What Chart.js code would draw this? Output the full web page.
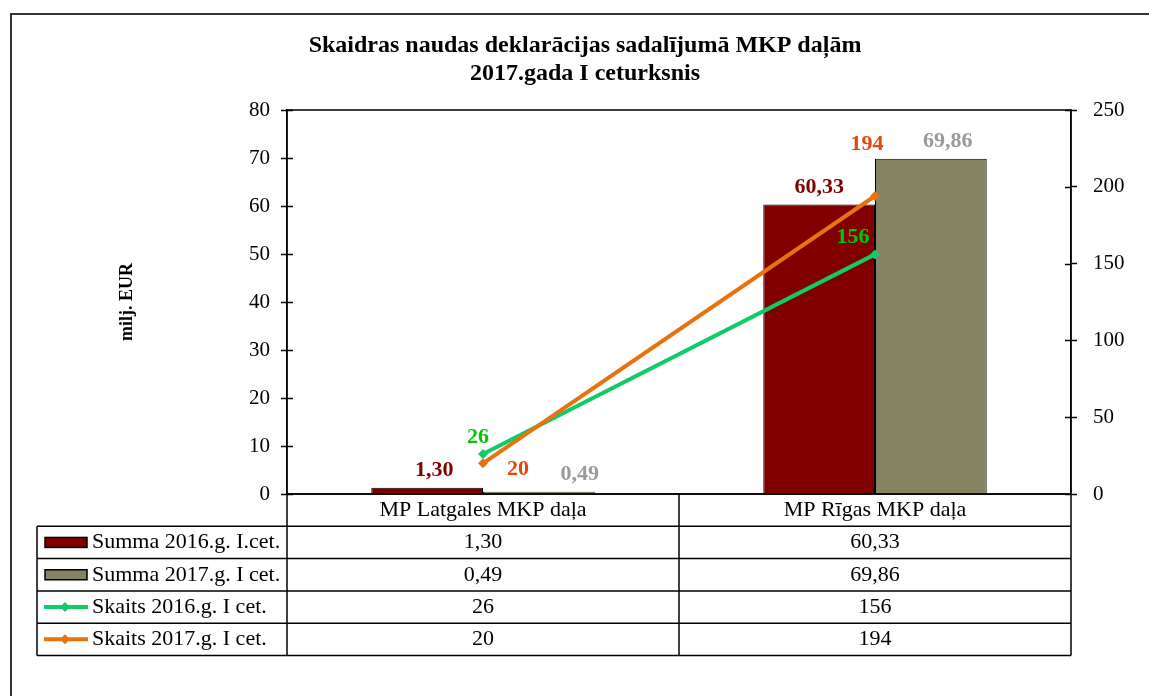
<!DOCTYPE html>
<html>
<head>
<meta charset="utf-8">
<script src="https://cdn.jsdelivr.net/npm/chart.js@4"></script>
<style>
  html, body { margin: 0; padding: 0; background: #fff; }
  #wrap { width: 1149px; height: 696px; position: relative; }
</style>
</head>
<body>
<div id="wrap"><canvas id="chart" width="1149" height="696"></canvas></div>
<script>
// chart values
const categories = ["MP Latgales MKP daļa", "MP Rīgas MKP daļa"];
const summa2016 = [1.30, 60.33];
const summa2017 = [0.49, 69.86];
const skaits2016 = [26, 156];
const skaits2017 = [20, 194];
const seriesNames = ["Summa 2016.g. I.cet.", "Summa 2017.g. I cet.", "Skaits 2016.g. I cet.", "Skaits 2017.g. I cet."];
const titleLines = ["Skaidras naudas deklarācijas sadalījumā MKP daļām", "2017.gada I ceturksnis"];

const FONT = "'Liberation Serif', 'Times New Roman', serif";
const colors = ["#800000", "#848462", "#10CC66", "#E8730E"];
const labelColors = ["#800000", "#9A9A9A", "#00C800", "#E0480E"];
// label nudges (x, y) relative to default above-the-mark spot
const labelNudge = [
    [[7, 0], [0, 0]],
    [[41, 0], [17, 0]],
    [[-5, 0], [-22, 0]],
    [[35, 23], [-8, -35]]
];

function fmt(v, dec) {
    return dec ? v.toFixed(2).replace(".", ",") : String(v);
}

const decorPlugin = {
    id: "decor",
    beforeDraw(chart) {
        let ctx = chart.ctx;
        ctx.save();
        ctx.fillStyle = "#fff";
        ctx.fillRect(0, 0, chart.width, chart.height);
        // outer frame
        ctx.strokeStyle = "#333";
        ctx.lineWidth = 2;
        ctx.strokeRect(11, 14, 1160, 720);
        // title
        ctx.fillStyle = "#000";
        ctx.font = "bold 24px " + FONT;
        ctx.textAlign = "center";
        ctx.textBaseline = "middle";
        ctx.fillText(titleLines[0], 585, 46);
        ctx.fillText(titleLines[1], 585, 74);
        ctx.restore();
    },
    afterDatasetsDraw(chart) {
        let ctx = chart.ctx;
        let a = chart.chartArea;
        ctx.save();
        ctx.strokeStyle = "#000";
        ctx.lineWidth = 1.5;
        ctx.strokeRect(a.left, a.top, a.right - a.left, a.bottom - a.top);

        // inner half of the tick marks
        ctx.beginPath();
        ["y", "y1"].forEach(id => {
            let s = chart.scales[id];
            let dir = id === "y" ? 1 : -1;
            let x0 = id === "y" ? a.left : a.right;
            s.ticks.forEach(t => {
                let py = Math.round(s.getPixelForValue(t.value)) + 0.5;
                ctx.moveTo(x0, py);
                ctx.lineTo(x0 + dir * 6, py);
            });
        });
        ctx.lineWidth = 1.5;
        ctx.stroke();

        // data labels
        ctx.font = "bold 22px " + FONT;
        ctx.textAlign = "center";
        ctx.textBaseline = "middle";
        chart.data.datasets.forEach((ds, di) => {
            let meta = chart.getDatasetMeta(di);
            meta.data.forEach((el, i) => {
                let n = labelNudge[di][i];
                ctx.fillStyle = labelColors[di];
                ctx.fillText(fmt(ds.data[i], di < 2), el.x + n[0], el.y - 17 + n[1]);
            });
        });

        // data table
        let x = chart.scales.x;
        let c0 = x.getPixelForValue(0), c1 = x.getPixelForValue(1);
        let mid = (c0 + c1) / 2;
        let tLeft = 37, top = a.bottom, rowH = 32.3;
        let nRows = seriesNames.length;
        let bottom = top + rowH * (nRows + 1);
        ctx.strokeStyle = "#000";
        ctx.lineWidth = 1.5;
        ctx.beginPath();
        // horizontal lines
        ctx.moveTo(a.left, top); ctx.lineTo(a.right, top);
        for (let r = 1; r <= nRows + 1; r++) {
            ctx.moveTo(tLeft, top + r * rowH);
            ctx.lineTo(a.right, top + r * rowH);
        }
        // vertical lines
        ctx.moveTo(tLeft, top + rowH); ctx.lineTo(tLeft, bottom);
        ctx.moveTo(a.left, top); ctx.lineTo(a.left, bottom);
        ctx.moveTo(mid, top); ctx.lineTo(mid, bottom);
        ctx.moveTo(a.right, top); ctx.lineTo(a.right, bottom);
        ctx.stroke();

        ctx.font = "22px " + FONT;
        ctx.fillStyle = "#000";
        ctx.textBaseline = "middle";
        ctx.textAlign = "center";
        ctx.fillText(categories[0], c0, top + rowH / 2);
        ctx.fillText(categories[1], c1, top + rowH / 2);

        chart.data.datasets.forEach((ds, di) => {
            let cy = top + rowH * (di + 1) + rowH / 2;
            ctx.textAlign = "center";
            ctx.fillStyle = "#000";
            ctx.fillText(fmt(ds.data[0], di < 2), c0, cy);
            ctx.fillText(fmt(ds.data[1], di < 2), c1, cy);
            // legend key
            if (di < 2) {
                ctx.fillStyle = colors[di];
                ctx.fillRect(45, cy - 5, 42, 10);
                ctx.lineWidth = 1.5;
                ctx.strokeRect(45, cy - 5, 42, 10);
            } else {
                ctx.strokeStyle = colors[di];
                ctx.lineWidth = 4;
                ctx.beginPath();
                ctx.moveTo(44, cy); ctx.lineTo(88, cy);
                ctx.stroke();
                ctx.fillStyle = colors[di];
                ctx.beginPath();
                ctx.moveTo(65, cy - 5); ctx.lineTo(70, cy); ctx.lineTo(65, cy + 5); ctx.lineTo(60, cy);
                ctx.closePath();
                ctx.fill();
                ctx.strokeStyle = "#000";
            }
            ctx.fillStyle = "#000";
            ctx.textAlign = "left";
            ctx.fillText(seriesNames[di], 92, cy);
        });
        ctx.restore();
    }
};

function fixY(width) {
    return function (s) {
        s.width = width;
        s.paddingTop = 0;
        s.paddingBottom = 0;
    };
}

let ctx = document.getElementById("chart").getContext("2d");
let chartInstance = new Chart(ctx, {
    type: "bar",
    data: {
        labels: categories,
        datasets: [
            {
                label: seriesNames[0], data: summa2016, backgroundColor: colors[0],
                borderColor: "#000", borderWidth: 1, yAxisID: "y", order: 2,
                barPercentage: 1, categoryPercentage: 0.57
            },
            {
                label: seriesNames[1], data: summa2017, backgroundColor: colors[1],
                borderColor: "#000", borderWidth: 1, yAxisID: "y", order: 2,
                barPercentage: 1, categoryPercentage: 0.57
            },
            {
                type: "line", label: seriesNames[2], data: skaits2016, yAxisID: "y1", order: 1,
                borderColor: colors[2], backgroundColor: colors[2], borderWidth: 4,
                pointStyle: "rectRot", pointRadius: 5, pointBorderWidth: 0
            },
            {
                type: "line", label: seriesNames[3], data: skaits2017, yAxisID: "y1", order: 0,
                borderColor: colors[3], backgroundColor: colors[3], borderWidth: 4,
                pointStyle: "rectRot", pointRadius: 5, pointBorderWidth: 0
            }
        ]
    },
    options: {
        responsive: false,
        animation: false,
        layout: { padding: { left: 117, right: 18, top: 110, bottom: 202 } },
        plugins: {
            legend: { display: false },
            tooltip: { enabled: false }
        },
        scales: {
            x: { display: false },
            y: {
                position: "left", min: 0, max: 80,
                afterFit: fixY(170),
                ticks: { stepSize: 10, color: "#000", padding: 11, font: { family: FONT, size: 21 } },
                grid: { drawOnChartArea: false, color: "#000", tickLength: 6, tickWidth: 1.5 },
                border: { color: "#000", width: 1.5 },
                title: { display: true, text: "milj. EUR", color: "#000", padding: 0,
                         font: { family: FONT, size: 18, weight: "bold" } }
            },
            y1: {
                position: "right", min: 0, max: 250,
                afterFit: fixY(60),
                ticks: { stepSize: 50, color: "#000", padding: 16, font: { family: FONT, size: 21 } },
                grid: { drawOnChartArea: false, color: "#000", tickLength: 6, tickWidth: 1.5 },
                border: { color: "#000", width: 1.5 }
            }
        }
    },
    plugins: [decorPlugin]
});
</script>
</body>
</html>
